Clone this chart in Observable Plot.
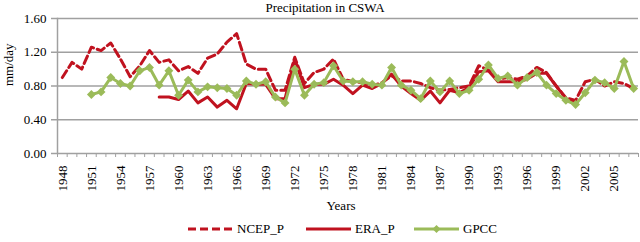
<!DOCTYPE html>
<html>
<head>
<meta charset="utf-8">
<script src="https://cdn.jsdelivr.net/npm/d3@7"></script>
<script src="https://cdn.jsdelivr.net/npm/@observablehq/plot@0.6"></script>
<style>
  html, body { margin: 0; padding: 0; background: #fff; }
  body { width: 640px; height: 242px; position: relative; overflow: hidden; font-family: "Liberation Serif", serif; color: #000; }
  #title { position: absolute; top: 0; left: 0; width: 640px; height: 16px; line-height: 16px; font-size: 13px; text-align: center; padding-left: 10px; box-sizing: border-box; z-index: 2; }
  #chart { position: absolute; top: 0; left: 0; }
  #legend { position: absolute; top: 218px; left: 0; width: 640px; height: 22px; font-size: 13px; }
  .item { position: absolute; top: 0; height: 22px; display: flex; align-items: center; }
  .item svg { margin-right: 4px; }
</style>
</head>
<body>
<div id="chart"></div>
<div id="title">Precipitation in CSWA</div>
<div id="legend"></div>
<script>
// ---- data ----
const seriesNames = ["NCEP_P", "ERA_P", "GPCC"];
const ncepStart = 1948;
const ncepValues = [0.90, 1.08, 1.00, 1.26, 1.22, 1.31, 1.12, 0.91, 1.04, 1.22,
  1.08, 1.11, 0.98, 1.03, 0.95, 1.13, 1.18, 1.32, 1.42, 1.06,
  1.00, 1.00, 0.75, 0.75, 1.14, 0.83, 0.96, 1.00, 1.12, 0.88,
  0.85, 0.84, 0.80, 0.84, 0.92, 0.86, 0.86, 0.83, 0.78, 0.75,
  0.76, 0.78, 0.80, 1.04, 0.99, 0.88, 0.90, 0.88, 0.92, 1.02,
  0.96, 0.80, 0.66, 0.63, 0.85, 0.88, 0.80, 0.85, 0.83, 0.77];
const eraStart = 1958;
const eraValues = [0.67, 0.67, 0.64, 0.74, 0.60, 0.67, 0.55, 0.63, 0.53, 0.83,
  0.82, 0.82, 0.65, 0.65, 1.12, 0.78, 0.82, 0.82, 0.88, 0.81,
  0.71, 0.81, 0.77, 0.83, 0.94, 0.80, 0.71, 0.63, 0.74, 0.60,
  0.75, 0.72, 0.78, 0.97, 0.98, 0.85, 0.85, 0.85, 0.88, 0.95,
  0.95, 0.80, 0.65, 0.60];
const gpccStart = 1951;
const gpccValues = [0.70, 0.73, 0.90, 0.83, 0.80, 0.98, 1.02, 0.81, 0.98, 0.69,
  0.87, 0.73, 0.79, 0.78, 0.77, 0.69, 0.86, 0.82, 0.85, 0.67,
  0.60, 1.00, 0.69, 0.82, 0.84, 1.04, 0.86, 0.85, 0.85, 0.82,
  0.81, 1.02, 0.81, 0.75, 0.65, 0.86, 0.73, 0.86, 0.71, 0.75,
  0.88, 1.05, 0.89, 0.92, 0.81, 0.90, 0.96, 0.81, 0.71, 0.63,
  0.58, 0.72, 0.87, 0.84, 0.77, 1.09, 0.77];
const xTickLabels = [1948, 1951, 1954, 1957, 1960, 1963, 1966, 1969, 1972, 1975,
  1978, 1981, 1984, 1987, 1990, 1993, 1996, 1999, 2002, 2005];
const yTickLabels = [0, 0.4, 0.8, 1.2, 1.6];
const firstYear = 1948, lastYear = 2007;

// ---- styles ----
const RED = "#c0121f";
const GREEN = "#9bbb59";
const GRAY = "#a0a0a0";

const toRows = (start, vals) => vals.map((v, i) => ({year: start + i, value: v}));
const ncep = toRows(ncepStart, ncepValues);
const era = toRows(eraStart, eraValues);
const gpcc = toRows(gpccStart, gpccValues);
const boundaries = d3.range(firstYear - 0.5, lastYear + 1, 1);

const chart = Plot.plot({
  width: 640,
  height: 218,
  marginTop: 18,
  marginLeft: 57,
  marginRight: 2,
  marginBottom: 65,
  style: {fontFamily: "Liberation Serif", fontSize: "13px", color: "#000", background: "transparent"},
  x: {type: "linear", domain: [firstYear - 0.5, lastYear + 0.5]},
  y: {domain: [0, 1.6]},
  marks: [
    Plot.gridY(yTickLabels.filter(d => d > 0), {stroke: GRAY, strokeOpacity: 1, strokeWidth: 1.5}),
    Plot.axisY(yTickLabels, {tickSize: 6, tickPadding: 5, stroke: GRAY, strokeWidth: 1.5,
      tickFormat: d3.format(".2f"), label: null, fill: "#000", fontSize: 13}),
    Plot.frame({anchor: "left", stroke: GRAY, strokeWidth: 1.5}),
    Plot.ruleY([0], {stroke: GRAY, strokeWidth: 1.5}),
    Plot.axisX(boundaries, {tickSize: 4, stroke: GRAY, strokeWidth: 1, tickFormat: () => "", label: null}),
    Plot.axisX(xTickLabels, {tickSize: 0, tickPadding: 12, tickRotate: -90, tickFormat: d => String(d),
      label: null, fill: "#000", fontSize: 13}),
    Plot.text(["mm/day"], {frameAnchor: "left", rotate: -90, dx: -49, fontSize: 13, fill: "#000"}),
    Plot.text(["Years"], {frameAnchor: "bottom", dy: 56, dx: -7, fontSize: 13, fill: "#000"}),
    Plot.line(ncep, {x: "year", y: "value", stroke: RED, strokeWidth: 3, strokeDasharray: "8,4"}),
    Plot.line(era, {x: "year", y: "value", stroke: RED, strokeWidth: 3}),
    Plot.line(gpcc, {x: "year", y: "value", stroke: GREEN, strokeWidth: 3}),
    Plot.dot(gpcc, {x: "year", y: "value", symbol: "diamond2", r: 4, fill: GREEN, stroke: "none"})
  ]
});
document.getElementById("chart").appendChild(chart);

// ---- legend ----
const legend = document.getElementById("legend");
const legendItems = [
  {name: seriesNames[0], left: 188, dash: "8,4", color: RED, marker: false},
  {name: seriesNames[1], left: 306, dash: null, color: RED, marker: false},
  {name: seriesNames[2], left: 414, dash: null, color: GREEN, marker: true}
];
for (const it of legendItems) {
  const div = document.createElement("div");
  div.className = "item";
  div.style.left = it.left + "px";
  const svg = d3.create("svg").attr("width", 45).attr("height", 10);
  svg.append("line").attr("x1", 0).attr("x2", 45).attr("y1", 5).attr("y2", 5)
    .attr("stroke", it.color).attr("stroke-width", 3)
    .attr("stroke-dasharray", it.dash);
  if (it.marker) {
    svg.append("path").attr("d", "M22.5,1L26.5,5L22.5,9L18.5,5Z").attr("fill", it.color);
  }
  div.appendChild(svg.node());
  const span = document.createElement("span");
  span.textContent = it.name;
  div.appendChild(span);
  legend.appendChild(div);
}
</script>
</body>
</html>
